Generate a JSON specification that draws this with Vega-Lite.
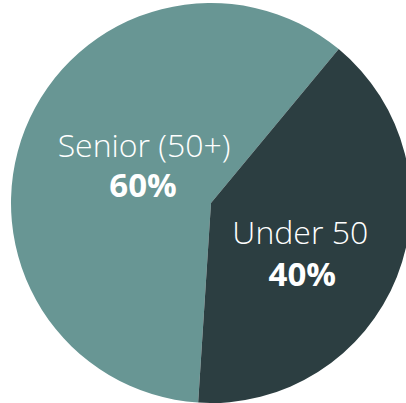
{
  "$schema": "https://vega.github.io/schema/vega-lite/v6.json",
  "autosize": {"type": "fit", "contains": "padding"},
  "width": 406,
  "height": 403,
  "padding": {"left": 16, "top": 3, "right": 0, "bottom": 0},
  "background": "white",
  "view": {"stroke": null},
  "data": {"values": [
    {"category": "Senior (50+)", "value": 0.6},
    {"category": "Under 50", "value": 0.4}
  ]},
  "encoding": {
    "theta": {"field": "value", "type": "quantitative", "stack": true,
      "scale": {"domain": [0, 1], "range": [3.206, 9.489]}},
    "order": {"field": "category", "type": "nominal", "sort": "ascending"},
    "color": {"field": "category", "type": "nominal", "legend": null,
      "scale": {"domain": ["Senior (50+)", "Under 50"], "range": ["#689694", "#2c3e41"]}}
  },
  "layer": [
    {"mark": {"type": "arc", "outerRadius": 200}},
    {"mark": {"type": "text", "radius": 72, "dy": -19, "baseline": "alphabetic", "font": "Open Sans", "fontWeight": 300, "fontSize": 32, "fill": "white"},
     "encoding": {"color": {"value": "white"}, "detail": {"field": "category"},
       "text": {"condition": {"test": "datum.category == 'Senior (50+)'", "field": "category"}, "value": ""}}},
    {"mark": {"type": "text", "radius": 72, "dy": 21, "dx": -1, "baseline": "alphabetic", "font": "Open Sans", "fontWeight": "bold", "fontSize": 33, "fill": "white"},
     "encoding": {"color": {"value": "white"}, "detail": {"field": "category"},
       "text": {"condition": {"test": "datum.category == 'Senior (50+)'", "field": "value", "type": "quantitative", "format": ".0%"}, "value": ""}}},
    {"mark": {"type": "text", "radius": 95, "dy": 6, "dx": 1, "baseline": "alphabetic", "font": "Open Sans", "fontWeight": 300, "fontSize": 32, "fill": "white"},
     "encoding": {"color": {"value": "white"}, "detail": {"field": "category"},
       "text": {"condition": {"test": "datum.category == 'Under 50'", "field": "category"}, "value": ""}}},
    {"mark": {"type": "text", "radius": 95, "dy": 48, "dx": 3, "baseline": "alphabetic", "font": "Open Sans", "fontWeight": "bold", "fontSize": 33, "fill": "white"},
     "encoding": {"color": {"value": "white"}, "detail": {"field": "category"},
       "text": {"condition": {"test": "datum.category == 'Under 50'", "field": "value", "type": "quantitative", "format": ".0%"}, "value": ""}}}
  ]
}
